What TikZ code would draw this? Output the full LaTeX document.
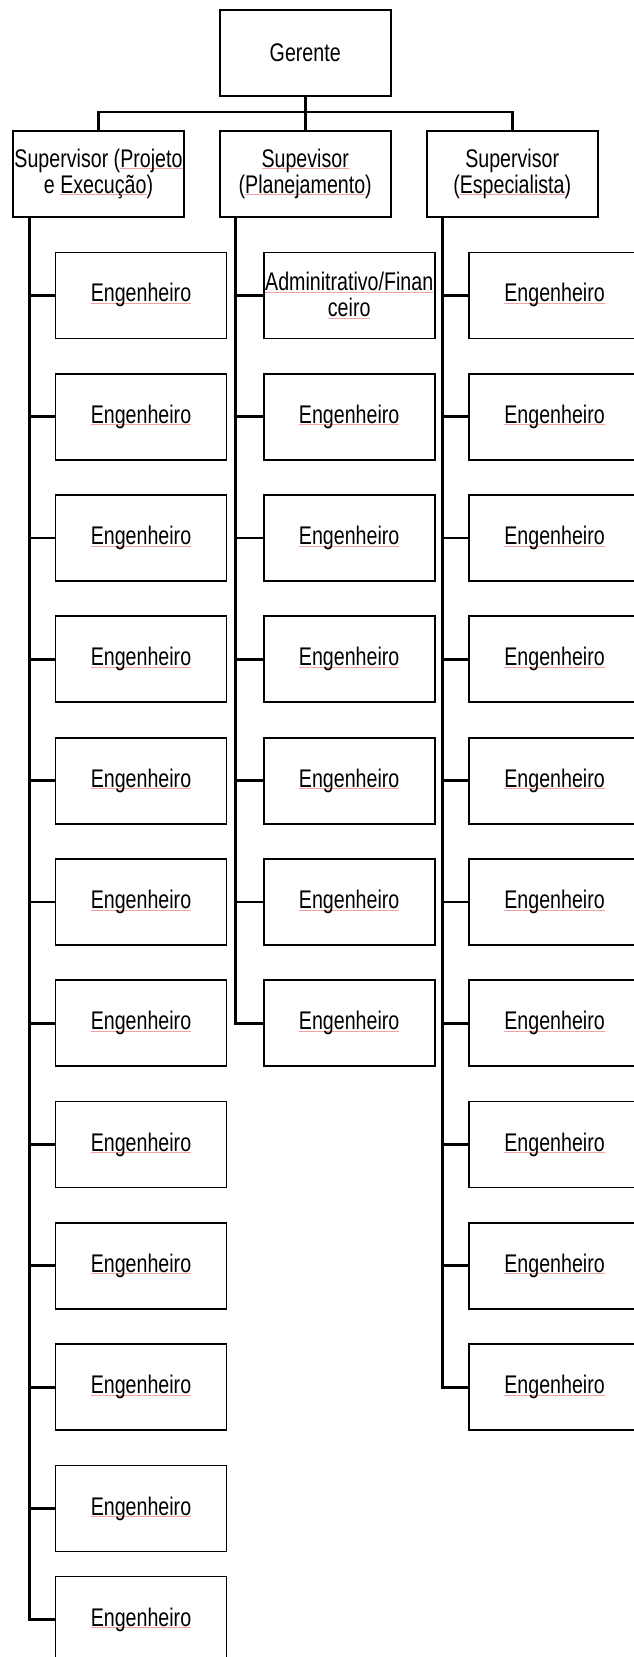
\documentclass[tikz,border=0pt]{standalone}
\usepackage{fontspec}
\setmainfont{Liberation Sans}[FakeStretch=0.77]
\definecolor{wavy}{HTML}{F2A3A3}
\newsavebox\spkbox
\newcommand\spk[1]{\sbox\spkbox{#1}\rlap{\textcolor{wavy}{\rule[-1.8pt]{\wd\spkbox}{0.8pt}}}\usebox\spkbox}
\tikzset{
  box/.style={draw=black, line width=1.8pt, minimum width=171pt, minimum height=86pt,
    inner sep=0pt, align=center, anchor=north west,
    font=\fontsize{25.5}{26}\selectfont},
  conn/.style={line width=2.8pt, draw=black}
}
\begin{document}
\begin{tikzpicture}[x=1pt,y=-1pt]
\clip (0,0) rectangle (634,1657);
\fill[white] (0,0) rectangle (634,1657);
% top
\node[box] (ger) at (218.8,9) {Gerente};
\node[box] (s1) at (12.1,130) {Supervisor (\spk{Projeto}\\e \spk{Execução})};
\node[box] (s2) at (218.8,130) {\spk{Supevisor}\\(\spk{Planejamento})};
\node[box] (s3) at (425.8,130) {Supervisor\\(\spk{Especialista})};
\coordinate (bus) at (304.3,112);
\draw[conn] (s1.north) |- (bus) -| (s3.north);
\draw[conn] (ger.south) -- (s2.north);
% column 1
\foreach \i in {1,...,11}{
  \node[box] (a\i) at (54.6,{251.5+121.3*(\i-1)}) {\spk{Engenheiro}};
}
\node[box] (a12) at (54.6,1575.6) {\spk{Engenheiro}};
\coordinate (ta) at ([xshift=17pt]s1.south west);
\draw[conn] (ta) |- (a12.west);
\foreach \i in {1,...,11}{ \draw[conn] (ta |- a\i.west) -- (a\i.west); }
% column 2
\node[box] (b1) at (262.8,251.5) {\spk{Adminitrativo/Finan}\\\spk{ceiro}};
\foreach \i in {2,...,7}{
  \node[box] (b\i) at (262.8,{251.5+121.3*(\i-1)}) {\spk{Engenheiro}};
}
\coordinate (tb) at ([xshift=17pt]s2.south west);
\draw[conn] (tb) |- (b7.west);
\foreach \i in {1,...,6}{ \draw[conn] (tb |- b\i.west) -- (b\i.west); }
% column 3
\foreach \i in {1,...,10}{
  \node[box] (c\i) at (468.2,{251.5+121.3*(\i-1)}) {\spk{Engenheiro}};
}
\coordinate (tc) at ([xshift=17pt]s3.south west);
\draw[conn] (tc) |- (c10.west);
\foreach \i in {1,...,9}{ \draw[conn] (tc |- c\i.west) -- (c\i.west); }
\end{tikzpicture}
\end{document}
